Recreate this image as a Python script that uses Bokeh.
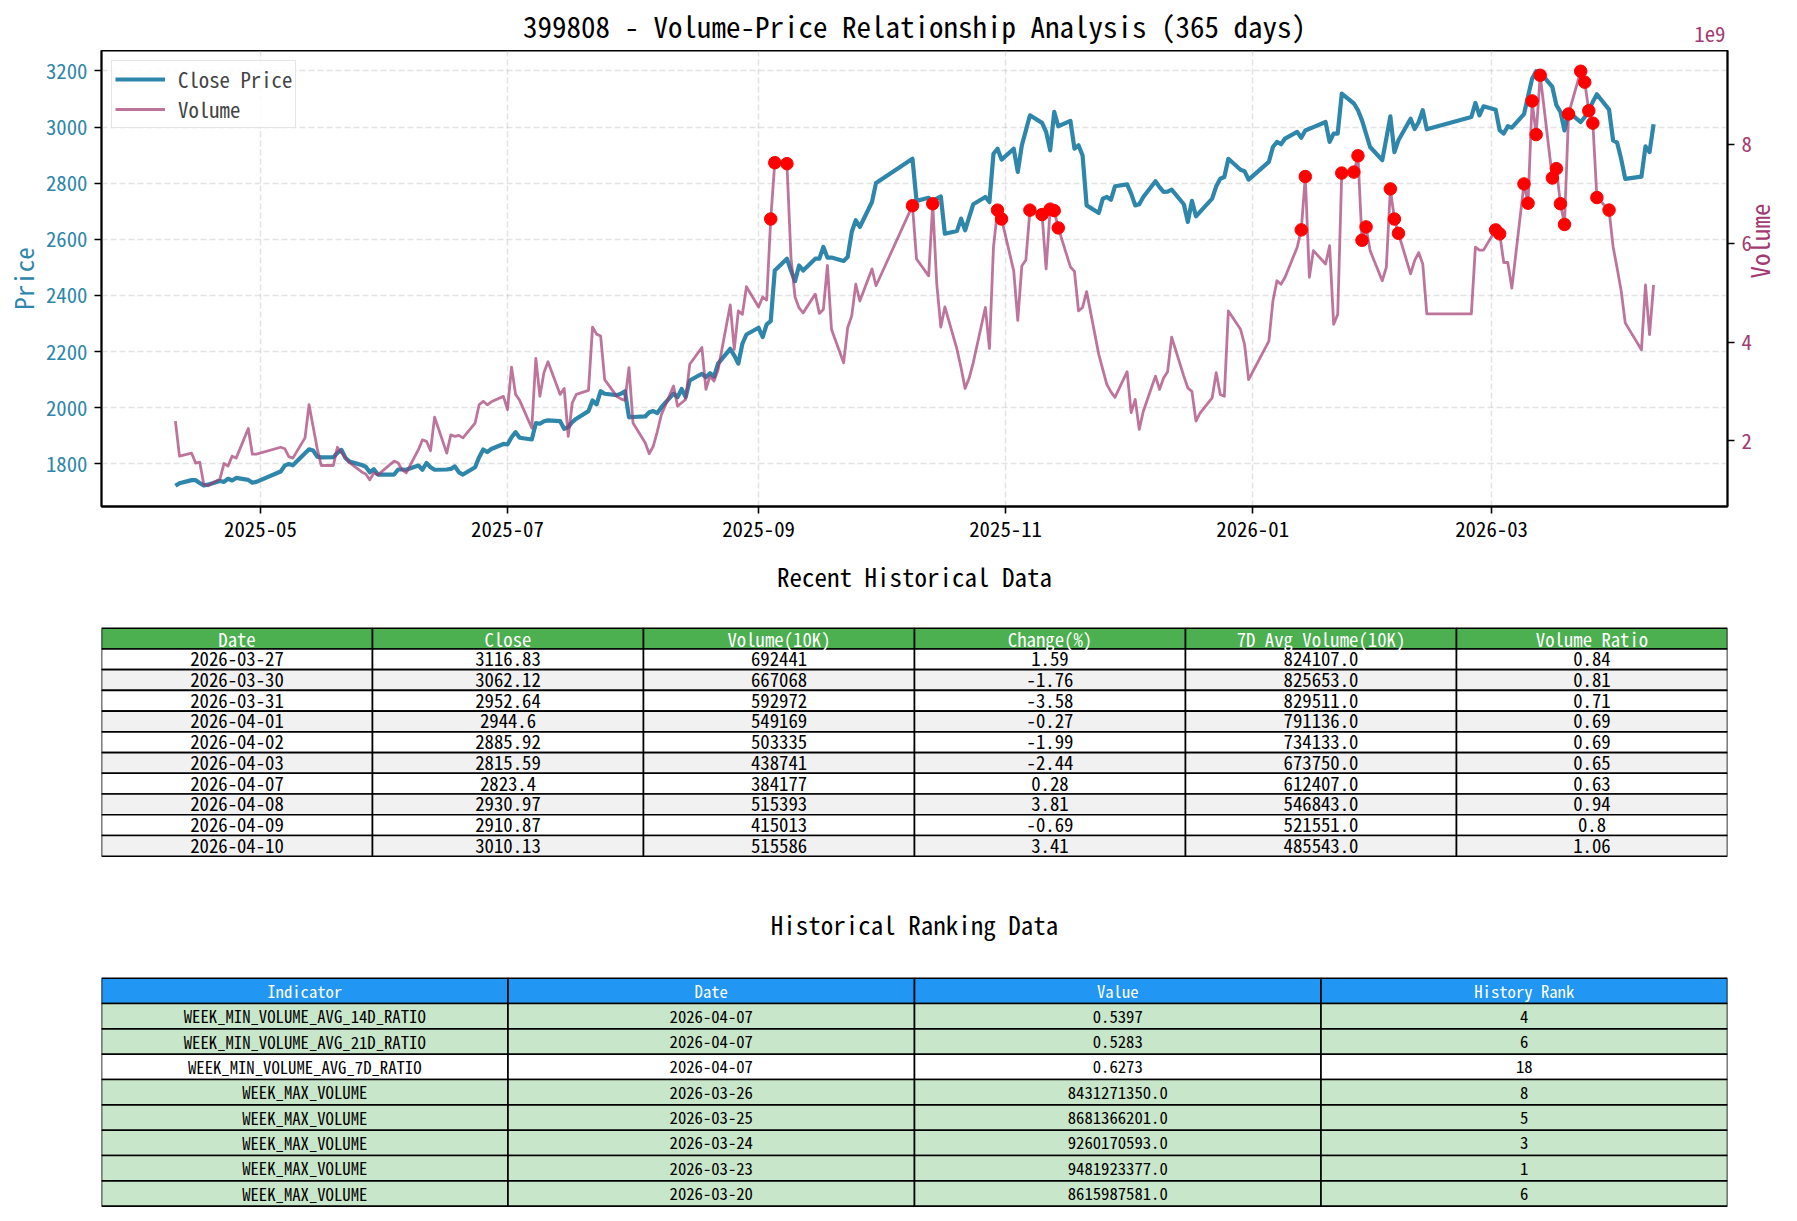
import math
import numpy as np
import pandas as pd
from bokeh.plotting import figure
from bokeh.layouts import column
from bokeh.models import (Range1d, LinearAxis, FixedTicker, DatetimeTickFormatter,
                          CustomJSTickFormatter, Legend, LegendItem, ColumnDataSource)
from bokeh.core.properties import value
from bokeh.embed import file_html
from bokeh.resources import INLINE

FONT = "'Noto Sans Mono CJK SC', 'Noto Sans CJK SC', monospace"
BLUE = "#2E86AB"
PLUM = "#A23B72"

# ---------------------------------------------------------------- data
# trading sessions per month (index 399808)
session_days = [
    ("2025-04", [10, 11, 14, 15, 16, 17, 18, 21, 22, 23, 24, 25, 28, 29, 30]),
    ("2025-05", [6, 7, 8, 9, 12, 13, 14, 15, 16, 19, 20, 21, 22, 23, 26, 27, 28, 29, 30]),
    ("2025-06", [3, 4, 5, 6, 9, 10, 11, 12, 13, 16, 17, 18, 19, 20, 23, 24, 25, 26, 27, 30]),
    ("2025-07", [1, 2, 3, 4, 7, 8, 9, 10, 11, 14, 15, 16, 17, 18, 21, 22, 23, 24, 25, 28, 29, 30, 31]),
    ("2025-08", [1, 4, 5, 6, 7, 8, 11, 12, 13, 14, 15, 18, 19, 20, 21, 22, 25, 26, 27, 28, 29]),
    ("2025-09", [1, 2, 3, 4, 5, 8, 9, 10, 11, 12, 15, 16, 17, 18, 19, 22, 23, 24, 25, 26, 29, 30]),
    ("2025-10", [9, 10, 13, 14, 15, 16, 17, 20, 21, 22, 23, 24, 27, 28, 29, 30, 31]),
    ("2025-11", [3, 4, 5, 6, 7, 10, 11, 12, 13, 14, 17, 18, 19, 20, 21, 24, 25, 26, 27, 28]),
    ("2025-12", [1, 2, 3, 4, 5, 8, 9, 10, 11, 12, 15, 16, 17, 18, 19, 22, 23, 24, 25, 26, 29, 30, 31]),
    ("2026-01", [5, 6, 7, 8, 9, 12, 13, 14, 15, 16, 19, 20, 21, 22, 23, 26, 27, 28, 29, 30]),
    ("2026-02", [2, 3, 4, 5, 6, 9, 10, 11, 12, 13, 24, 25, 26, 27]),
    ("2026-03", [2, 3, 4, 5, 6, 9, 10, 11, 12, 13, 16, 17, 18, 19, 20, 23, 24, 25, 26]),
]

hist_close = [
    1722, 1731, 1742, 1742, 1732, 1723, 1726, 1739, 1736, 1747, 1741, 1750, 1743, 1733, 1736,
    1773, 1794, 1800, 1795, 1838, 1852, 1848, 1826, 1823, 1824, 1839, 1850, 1821, 1808, 1796, 1790, 1770, 1781, 1762,
    1762, 1780, 1780, 1779, 1794, 1779, 1803, 1788, 1779, 1780, 1782, 1791, 1770, 1762, 1788, 1824, 1851, 1842, 1853, 1871,
    1869, 1895, 1913, 1893, 1887, 1945, 1943, 1952, 1955, 1952, 1925, 1931, 1949, 1961, 1988, 2026, 2012, 2059, 2050, 2045, 2050, 2059, 1966,
    1967, 1969, 1984, 1988, 1981, 2002, 2050, 2038, 2067, 2038, 2097, 2121, 2109, 2123, 2111, 2157, 2210, 2186, 2157, 2228, 2261,
    2285, 2252, 2297, 2309, 2489, 2531, 2489, 2451, 2507, 2489, 2531, 2531, 2573, 2535, 2535, 2523, 2537, 2626, 2668, 2644, 2733, 2801,
    2887, 2737, 2748, 2721, 2745, 2753, 2620, 2630, 2674, 2632, 2679, 2725, 2751, 2733, 2905, 2923, 2884,
    2923, 2840, 2935, 2988, 3042, 3015, 2983, 2917, 3054, 3003, 3022, 2923, 2935, 2899, 2721, 2694, 2745, 2751, 2741, 2789,
    2796, 2763, 2721, 2725, 2751, 2807, 2786, 2769, 2770, 2777, 2725, 2662, 2737, 2682, 2698, 2745, 2789, 2816, 2822, 2887, 2848, 2843, 2813,
    2876, 2929, 2947, 2939, 2959, 2983, 2962, 2988, 2994, 3000, 3018, 2947, 2977, 2977, 3119, 3084, 3060, 3024, 2977, 2929,
    2882, 2959, 3038, 2911, 2953, 3030, 2993, 3018, 3060, 2992, 3036, 3086, 3042, 3074,
    3062, 2988, 2977, 3003, 2998, 3046, 3110, 3172, 3199, 3195, 3143, 3078, 3054, 2988, 3054, 3018, 3036, 3060, 3090,
]

# daily volume, billions of shares
hist_volume_bn = [
    2.40, 1.69, 1.75, 1.55, 1.57, 1.12, 1.09, 1.23, 1.54, 1.49, 1.69, 1.65, 2.25, 1.73, 1.73,
    1.87, 1.84, 1.68, 1.65, 2.06, 2.73, 2.29, 1.85, 1.50, 1.50, 1.87, 1.76, 1.66, 1.56, 1.37, 1.33, 1.21, 1.35, 1.31,
    1.59, 1.55, 1.41, 1.35, 1.82, 2.02, 1.99, 1.80, 2.48, 1.75, 2.12, 2.09, 2.11, 2.06, 2.36, 2.73, 2.80, 2.73, 2.79, 2.90,
    2.63, 3.49, 2.94, 2.82, 2.26, 3.67, 2.90, 3.38, 3.60, 2.94, 3.06, 2.09, 2.77, 2.94, 3.02, 4.30, 4.16, 4.12, 3.24, 2.90, 2.85, 2.82, 3.48,
    2.36, 1.96, 1.74, 1.89, 2.19, 2.53, 3.11, 2.70, 2.77, 2.84, 3.55, 3.89, 3.04, 3.31, 3.21, 3.44, 4.75, 3.85, 4.63, 4.56, 5.12,
    4.71, 4.91, 4.85, 6.49, 7.63, 7.61, 5.71, 4.91, 4.69, 4.59, 4.97, 4.58, 4.66, 5.55, 4.26, 3.58, 4.29, 4.53, 5.17, 4.83, 5.48, 5.14,
    6.76, 5.68, 5.34, 6.80, 5.17, 4.30, 4.71, 3.85, 3.48, 3.06, 3.27, 3.58, 4.70, 3.87, 5.92, 6.67, 6.49,
    5.44, 4.44, 5.54, 5.66, 6.67, 6.58, 5.48, 6.69, 6.66, 6.31, 5.52, 5.43, 4.63, 4.70, 5.02, 3.75, 3.44, 3.14, 2.99, 2.88,
    3.40, 2.57, 2.84, 2.23, 2.60, 3.31, 3.04, 3.27, 3.40, 4.10, 3.31, 3.07, 3.00, 2.40, 2.56, 2.87, 3.38, 2.94, 2.90, 4.63, 4.26, 3.95, 3.24,
    4.02, 4.83, 5.24, 5.17, 5.31, 5.92, 6.27, 7.35, 5.31, 5.85, 5.58, 5.95, 4.36, 4.56, 7.42, 7.44, 7.77, 6.06, 6.33, 5.85,
    5.24, 5.51, 7.10, 6.49, 6.20, 5.38, 5.65, 5.81, 5.58, 4.57, 4.57, 5.92, 5.86, 5.86,
    6.27, 6.19, 5.61, 5.61, 5.09, 7.20, 6.81, 8.88, 8.20, 9.40, 7.32, 7.51, 6.80, 6.38, 8.616, 9.482, 9.260, 8.681, 8.431,
]

# recent sessions table
recent_dates = ["2026-03-27", "2026-03-30", "2026-03-31", "2026-04-01", "2026-04-02",
                "2026-04-03", "2026-04-07", "2026-04-08", "2026-04-09", "2026-04-10"]
recent_close = [3116.83, 3062.12, 2952.64, 2944.6, 2885.92, 2815.59, 2823.4, 2930.97, 2910.87, 3010.13]
recent_volume_10k = [692441, 667068, 592972, 549169, 503335, 438741, 384177, 515393, 415013, 515586]
recent_change_pct = [1.59, -1.76, -3.58, -0.27, -1.99, -2.44, 0.28, 3.81, -0.69, 3.41]
recent_avg7_10k = [824107.0, 825653.0, 829511.0, 791136.0, 734133.0, 673750.0, 612407.0, 546843.0, 521551.0, 485543.0]
recent_volume_ratio = [0.84, 0.81, 0.71, 0.69, 0.69, 0.65, 0.63, 0.94, 0.8, 1.06]

# historical ranking table
rank_indicator = ["WEEK_MIN_VOLUME_AVG_14D_RATIO", "WEEK_MIN_VOLUME_AVG_21D_RATIO",
                  "WEEK_MIN_VOLUME_AVG_7D_RATIO", "WEEK_MAX_VOLUME", "WEEK_MAX_VOLUME",
                  "WEEK_MAX_VOLUME", "WEEK_MAX_VOLUME", "WEEK_MAX_VOLUME"]
rank_date = ["2026-04-07", "2026-04-07", "2026-04-07", "2026-03-26", "2026-03-25",
             "2026-03-24", "2026-03-23", "2026-03-20"]
rank_value = [0.5397, 0.5283, 0.6273, 8431271350.0, 8681366201.0, 9260170593.0, 9481923377.0, 8615987581.0]
rank_position = [4, 6, 18, 8, 5, 3, 1, 6]

price_ticks = [1800, 2000, 2200, 2400, 2600, 2800, 3000, 3200]
volume_ticks_bn = [2, 4, 6, 8]
month_ticks = ["2025-05", "2025-07", "2025-09", "2025-11", "2026-01", "2026-03"]

HIGH_VOLUME = 6.0e9

# ---------------------------------------------------------------- series
hist_dates = [f"{m}-{d:02d}" for m, days in session_days for d in days]
dates = pd.to_datetime(hist_dates + recent_dates)
close = np.array(hist_close + recent_close, dtype=float)
volume = np.array(hist_volume_bn, dtype=float) * 1e9
volume = np.concatenate([volume, np.array(recent_volume_10k, dtype=float) * 1e4])
for ind, d, v in zip(rank_indicator, rank_date, rank_value):
    if ind == "WEEK_MAX_VOLUME":
        volume[dates == pd.Timestamp(d)] = v

src = ColumnDataSource(dict(date=dates, close=close, volume=volume))
hot = volume >= HIGH_VOLUME
hot_src = ColumnDataSource(dict(date=dates[hot], volume=volume[hot]))

span = dates[-1] - dates[0]
x_start = dates[0] - span * 0.05
x_end = dates[-1] + span * 0.05
p_pad = 0.05 * (close.max() - close.min())
v_pad = 0.05 * (volume.max() - volume.min())
v_lo, v_hi = volume.min() - v_pad, volume.max() + v_pad

# page geometry shared by every panel
W, H = 1797, 1221
LEFT, RIGHT = 101, 1727
HEAD_H = 50
CHART_H = 502
MID = (LEFT + RIGHT) / 2


def blank_panel(height, y_top, y_bottom):
    f = figure(width=W, height=height, output_backend="svg", toolbar_location=None,
               x_range=Range1d(LEFT, RIGHT), y_range=Range1d(y_bottom, y_top),
               min_border_left=LEFT, min_border_right=W - RIGHT,
               min_border_top=0, min_border_bottom=0,
               x_axis_location=None, y_axis_location=None,
               background_fill_color="white", border_fill_color="white")
    f.grid.visible = False
    f.outline_line_color = None
    return f


# ---------------------------------------------------------------- heading
head = blank_panel(HEAD_H, 0, HEAD_H)
head.text(x=[MID], y=[24], text=["399808 - Volume-Price Relationship Analysis (365 days)"],
          text_align="center", text_baseline="middle", text_font=value(FONT),
          text_font_size="29px", text_color="black")
head.text(x=[RIGHT - 2], y=[33.5], text=["1e9"], text_align="right",
          text_baseline="middle", text_font=value(FONT), text_font_size="20.8px",
          text_color=PLUM)

# ---------------------------------------------------------------- chart
p = figure(width=W, height=CHART_H, x_axis_type="datetime", output_backend="svg",
           toolbar_location=None,
           x_range=Range1d(x_start.to_pydatetime(), x_end.to_pydatetime()),
           y_range=Range1d(close.min() - p_pad, close.max() + p_pad),
           min_border_left=LEFT, min_border_right=W - RIGHT, min_border_top=0,
           min_border_bottom=46,
           background_fill_color="white", border_fill_color="white")
p.extra_y_ranges = {"vol": Range1d(v_lo, v_hi)}

for g in (p.xgrid[0], p.ygrid[0]):
    g.grid_line_color = "#b0b0b0"
    g.grid_line_alpha = 0.35
    g.grid_line_dash = "6 3"
    g.grid_line_width = 1.5

p.outline_line_color = "black"
p.outline_line_width = 1.8

r_price = p.line("date", "close", source=src, line_color=BLUE, line_width=4.2, line_join="round")
r_vol = p.line("date", "volume", source=src, y_range_name="vol", line_color=PLUM,
               line_alpha=0.7, line_width=2.8, line_join="round")
p.scatter("date", "volume", source=hot_src, y_range_name="vol", size=12.5,
          fill_color="red", line_color="red")

xa = p.xaxis[0]
xa.ticker = FixedTicker(ticks=[pd.Timestamp(m + "-01").value / 1e6 for m in month_ticks])
xa.formatter = DatetimeTickFormatter(days="%Y-%m", months="%Y-%m", years="%Y-%m",
                                     hours="%Y-%m", hourmin="%Y-%m")

ya = p.yaxis[0]
ya.ticker = FixedTicker(ticks=price_ticks)
ya.axis_label = "Price"
ya.axis_label_text_color = BLUE
ya.major_label_text_color = BLUE

ra = LinearAxis(y_range_name="vol",
                ticker=FixedTicker(ticks=[t * 1e9 for t in volume_ticks_bn]),
                formatter=CustomJSTickFormatter(code="return (tick / 1e9).toFixed(0);"))
ra.axis_label = "Volume"
ra.axis_label_text_color = PLUM
ra.major_label_text_color = PLUM
p.add_layout(ra, "right")

for ax in (xa, ya, ra):
    ax.axis_line_color = "black"
    ax.axis_line_width = 1.8
    ax.major_tick_line_color = "black"
    ax.major_tick_line_width = 1.6
    ax.major_tick_out = 7
    ax.major_tick_in = 0
    ax.minor_tick_line_color = None
    ax.major_label_text_font = FONT
    ax.major_label_text_font_size = "20.8px"
    ax.major_label_standoff = 7
    ax.axis_label_text_font = FONT
    ax.axis_label_text_font_size = "25px"
    ax.axis_label_text_font_style = "normal"
    ax.axis_label_standoff = 2
xa.major_label_text_color = "black"
ra.axis_label_standoff = 4
try:
    ra.axis_label_orientation = math.pi / 2
except Exception:
    pass

legend = Legend(items=[LegendItem(label="Close Price", renderers=[r_price]),
                       LegendItem(label="Volume", renderers=[r_vol])],
                location="top_left", margin=10, padding=3, spacing=-3,
                glyph_width=50, glyph_height=24, label_height=24, label_standoff=13,
                label_text_font=FONT, label_text_font_size="20.8px",
                border_line_color="#cccccc", border_line_width=1.2,
                background_fill_color="white", background_fill_alpha=0.85)
p.add_layout(legend)

# ---------------------------------------------------------------- tables
T_TOP = HEAD_H + CHART_H
t = blank_panel(H - T_TOP, T_TOP, H)


def draw_table(title, title_y, top, row_h, header, rows, header_fill, row_fills, font_px):
    ncol = len(header)
    col_w = (RIGHT - LEFT) / ncol
    cx, cy, fills, txt, tcol = [], [], [], [], []
    for r, (cells, fill) in enumerate([(header, header_fill)] + list(zip(rows, row_fills))):
        for c, s in enumerate(cells):
            cx.append(LEFT + col_w * (c + 0.5))
            cy.append(top + row_h * (r + 0.5))
            fills.append(fill)
            txt.append(s)
            tcol.append("white" if r == 0 else "black")
    t.rect(x=cx, y=cy, width=col_w, height=row_h, fill_color=fills,
           line_color="black", line_width=1.6)
    t.text(x=cx, y=cy, text=txt, text_color=tcol, text_align="center",
           text_baseline="middle", text_font=value(FONT), text_font_size=f"{font_px}px")
    t.text(x=[MID], y=[title_y], text=[title], text_align="center",
           text_baseline="middle", text_font=value(FONT), text_font_size="25px",
           text_color="black")


recent_rows = [[d, str(c), str(v), str(ch), str(a), str(vr)]
               for d, c, v, ch, a, vr in zip(recent_dates, recent_close, recent_volume_10k,
                                              recent_change_pct, recent_avg7_10k,
                                              recent_volume_ratio)]
draw_table("Recent Historical Data", 575, 627.7, 20.73,
           ["Date", "Close", "Volume(10K)", "Change(%)", "7D Avg Volume(10K)", "Volume Ratio"],
           recent_rows, "#4CAF50",
           ["white" if i % 2 == 0 else "#f1f1f1" for i in range(len(recent_rows))], 18.75)

rank_rows = [[i, d, str(v), str(r)]
             for i, d, v, r in zip(rank_indicator, rank_date, rank_value, rank_position)]
draw_table("Historical Ranking Data", 923, 977.7, 25.33,
           ["Indicator", "Date", "Value", "History Rank"], rank_rows, "#2196F3",
           ["#C8E6C9" if r <= 10 else "white" for r in rank_position], 16.7)

layout = column(head, p, t, spacing=0)
open("out.html", "w").write(file_html(layout, INLINE))
